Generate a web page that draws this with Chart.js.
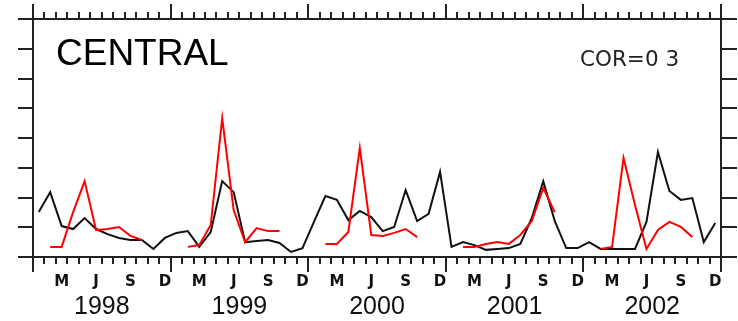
<!DOCTYPE html>
<html>
<head>
<meta charset="UTF-8">
<title>CENTRAL</title>
<script src="https://cdn.jsdelivr.net/npm/chart.js"></script>
<style>
    body { margin: 0; padding: 0; background: #fff; }
    canvas { display: block; }
</style>
</head>
<body>
<canvas id="chart" width="738" height="321"></canvas>
<script>
// monthly values, Jan 1998 .. Dec 2002
const years = ['1998', '1999', '2000', '2001', '2002'];
const monthLetters = ['J', 'F', 'M', 'A', 'M', 'J', 'J', 'A', 'S', 'O', 'N', 'D'];
const labelledMonths = [2, 5, 8, 11]; // M J S D

const blackSeries = [
    1.51, 2.18, 1.04, 0.94, 1.31, 0.94, 0.77, 0.64, 0.57, 0.57, 0.27, 0.64,
    0.81, 0.87, 0.34, 0.84, 2.55, 2.18, 0.50, 0.54, 0.57, 0.47, 0.17, 0.30,
    1.18, 2.05, 1.92, 1.24, 1.55, 1.34, 0.87, 1.01, 2.25, 1.21, 1.45, 2.86,
    0.34, 0.50, 0.40, 0.24, 0.27, 0.30, 0.44, 1.31, 2.55, 1.21, 0.30, 0.30,
    0.50, 0.27, 0.27, 0.27, 0.27, 1.18, 3.53, 2.22, 1.92, 1.98, 0.50, 1.14
];
const redSeries = [
    null, 0.34, 0.34, 1.51, 2.55, 0.91, 0.94, 1.01, 0.71, 0.57, null, null,
    null, 0.34, 0.40, 1.08, 4.67, 1.58, 0.50, 0.97, 0.87, 0.87, null, null,
    null, 0.44, 0.44, 0.84, 3.66, 0.74, 0.71, 0.81, 0.94, 0.67, null, null,
    null, 0.34, 0.34, 0.44, 0.50, 0.44, 0.74, 1.21, 2.32, 1.51, null, null,
    null, 0.27, 0.34, 3.33, 1.75, 0.27, 0.91, 1.18, 1.01, 0.67, null, null
];
const yTicks = [0, 1, 2, 3, 4, 5, 6, 7, 8];

const toPoints = arr => arr.map((v, i) => ({ x: i + 0.5, y: v }));

// frame, tick marks and labels drawn from the chart's own scales
const framePlugin = {
    id: 'frame',
    afterDraw(chart) {
        const ctx = chart.ctx;
        const xs = chart.scales.x;
        const ys = chart.scales.y;
        const left = Math.round(xs.getPixelForValue(0)), right = Math.round(xs.getPixelForValue(60));
        const top = Math.round(ys.getPixelForValue(8)), bottom = Math.round(ys.getPixelForValue(0));
        ctx.save();
        ctx.strokeStyle = '#222';
        ctx.lineWidth = 2;
        ctx.beginPath();
        // axes
        ctx.moveTo(left, top); ctx.lineTo(right, top);
        ctx.moveTo(left, bottom); ctx.lineTo(right, bottom);
        ctx.moveTo(left, top - 15); ctx.lineTo(left, bottom + 15);
        ctx.moveTo(right, top - 15); ctx.lineTo(right, bottom + 15);
        // month ticks, longer at year boundaries
        for (let m = 1; m < 60; m++) {
            const x = Math.round(xs.getPixelForValue(m));
            const len = (m % 12 === 0) ? 15 : 7;
            ctx.moveTo(x, bottom); ctx.lineTo(x, bottom + len);
            ctx.moveTo(x, top); ctx.lineTo(x, top - len);
        }
        // left/right ticks
        yTicks.forEach(t => {
            const y = Math.round(ys.getPixelForValue(t));
            ctx.moveTo(left - 15, y); ctx.lineTo(left, y);
            ctx.moveTo(right, y); ctx.lineTo(right + 16, y);
        });
        ctx.stroke();

        // month letters
        ctx.fillStyle = '#111';
        ctx.textAlign = 'center';
        ctx.textBaseline = 'middle';
        ctx.font = 'bold 15px "DejaVu Sans"';
        years.forEach((yr, k) => {
            labelledMonths.forEach(mi => {
                const x = xs.getPixelForValue(k * 12 + mi + 0.5);
                ctx.fillText(monthLetters[mi], x, bottom + 25);
            });
        });
        // years
        ctx.font = '25px "Liberation Sans"';
        years.forEach((yr, k) => {
            ctx.fillText(yr, xs.getPixelForValue(k * 12 + 6), bottom + 50);
        });
        // titles
        ctx.textAlign = 'left';
        ctx.textBaseline = 'alphabetic';
        ctx.fillStyle = '#000';
        ctx.font = '37px "Liberation Sans"';
        ctx.fillText('CENTRAL', left + 23, top + 46);
        ctx.fillStyle = '#222';
        ctx.font = '21.5px "DejaVu Sans"';
        ctx.fillText('COR=0 3', 580, top + 47);
        ctx.restore();
    }
};

new Chart(document.getElementById('chart').getContext('2d'), {
    type: 'line',
    data: {
        datasets: [
            {
                data: toPoints(redSeries),
                borderColor: '#ff0000',
                borderWidth: 2,
                pointRadius: 0,
                tension: 0,
                spanGaps: false
            },
            {
                data: toPoints(blackSeries),
                borderColor: '#111',
                borderWidth: 2,
                pointRadius: 0,
                tension: 0
            }
        ]
    },
    options: {
        responsive: false,
        animation: false,
        layout: { padding: { left: 33, right: 17, top: 19, bottom: 64 } },
        plugins: { legend: { display: false }, tooltip: { enabled: false } },
        scales: {
            x: { type: 'linear', min: 0, max: 60, display: false },
            y: { type: 'linear', min: 0, max: 8, display: false }
        }
    },
    plugins: [framePlugin]
});
</script>
</body>
</html>
